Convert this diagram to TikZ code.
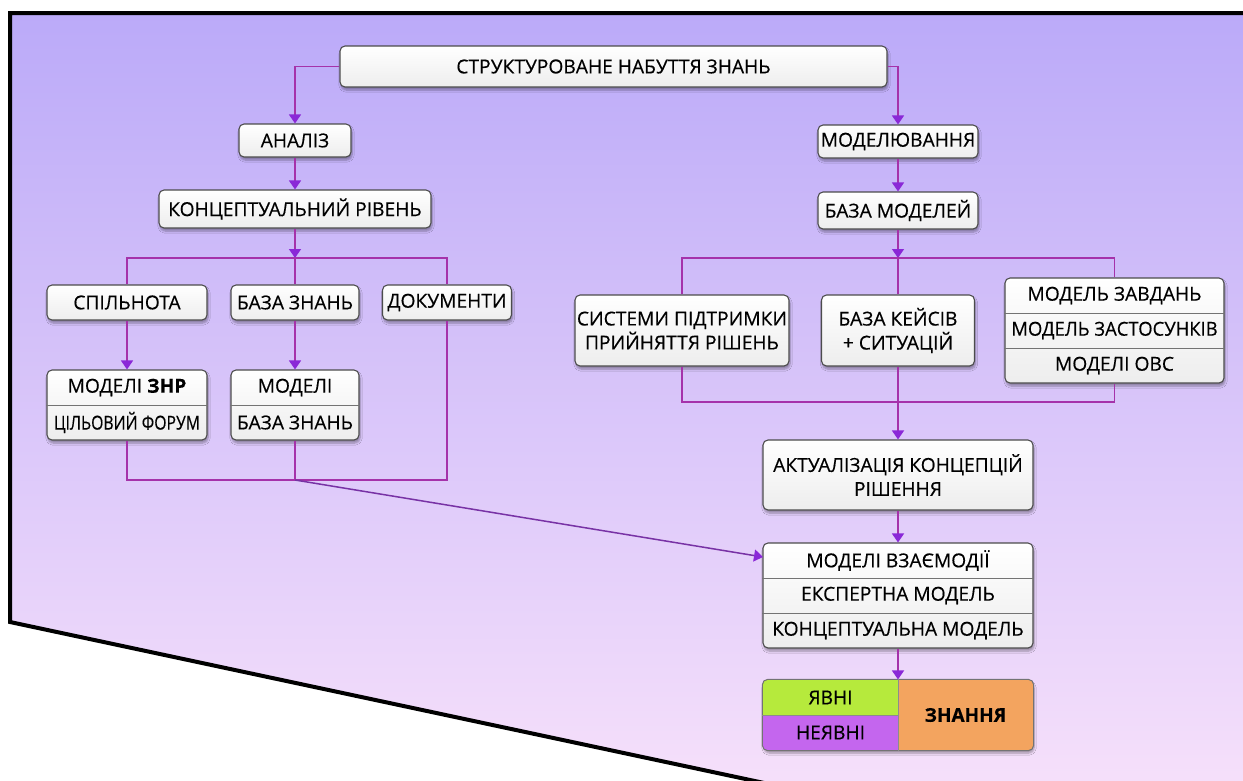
\documentclass[tikz,border=0pt]{standalone}
\usepackage{fontspec}
\setmainfont{Open Sans}
\newfontfamily\boxfont{Open Sans}[FakeBold=0.35]
\usetikzlibrary{arrows.meta,shadows.blur,calc}

\definecolor{bgtop}{RGB}{187,170,249}
\definecolor{bgbot}{RGB}{246,224,250}
\definecolor{linkc}{RGB}{165,50,170}
\definecolor{tipc}{RGB}{138,40,215}
\definecolor{diagc}{RGB}{120,50,165}
\definecolor{yes}{RGB}{182,234,60}
\definecolor{tacit}{RGB}{196,102,238}
\definecolor{know}{RGB}{243,164,95}

\tikzset{
  box/.style={draw=black!70, line width=1.1pt, rounded corners=5pt,
    top color=white, bottom color=black!7, inner sep=0pt, align=center,
    font=\boxfont\fontsize{19.2}{24}\selectfont, text=black,
    blur shadow={shadow blur steps=6, shadow xshift=1pt, shadow yshift=-3pt, shadow opacity=35}},
  lbl/.style={inner sep=0pt, font=\boxfont\fontsize{19.2}{24}\selectfont, text=black, align=center},
  divider/.style={draw=black!55, line width=0.9pt},
  link/.style={draw=linkc, line width=1.5pt},
  arr/.style={link, -{Triangle[width=12pt,length=9pt,color=tipc]}},
}

\begin{document}
\begin{tikzpicture}[x=1pt,y=-1pt]
\useasboundingbox (0,0) rectangle (1243,780);
\clip (0,0) rectangle (1243,780);

% backdrop panel
\shade[top color=bgtop, bottom color=bgbot]
  (10,13) -- (1260,13) -- (1260,790) -- (797,790) -- (10,622) -- cycle;
\draw[line width=4pt, line join=miter]
  (1260,13) -- (10,13) -- (10,622) -- (797,790);

% ---- top ----
\node[box, minimum width=547, minimum height=41] (top) at (613.5,66.5) {СТРУКТУРОВАНЕ НАБУТТЯ ЗНАНЬ};

% ---- left branch ----
\node[box, minimum width=112, minimum height=33] (anal) at (295,140.5) {АНАЛІЗ};
\node[box, minimum width=272, minimum height=38] (konc) at (295,209) {КОНЦЕПТУАЛЬНИЙ РІВЕНЬ};
\node[box, minimum width=160, minimum height=35] (spil) at (127,302.5) {СПІЛЬНОТА};
\node[box, minimum width=128, minimum height=35] (bz) at (295,302.5) {БАЗА ЗНАНЬ};
\node[box, minimum width=129, minimum height=35] (doc) at (447,302.5) {ДОКУМЕНТИ};

\node[box, minimum width=160, minimum height=70] (mznr) at (127,405) {};
\draw[divider] (mznr.west) -- (mznr.east);
\node[lbl] (mznr1) at (127,387.5) {МОДЕЛІ \textbf{ЗНР}};
\node[lbl] (mznr2) at (127,422.5) {\scalebox{0.82}[1]{ЦІЛЬОВИЙ ФОРУМ}};

\node[box, minimum width=128, minimum height=70] (mbz) at (295,405) {};
\draw[divider] (mbz.west) -- (mbz.east);
\node[lbl] (mbz1) at (295,387.5) {МОДЕЛІ};
\node[lbl] (mbz2) at (295,422.5) {БАЗА ЗНАНЬ};

\coordinate (lsplit) at (295,258);
\coordinate (ljoin) at (295,480);

% ---- right branch ----
\node[box, minimum width=160, minimum height=33] (model) at (898,141.5) {МОДЕЛЮВАННЯ};
\node[box, minimum width=160, minimum height=37] (bm) at (898,210.5) {БАЗА МОДЕЛЕЙ};
\node[box, minimum width=214, minimum height=71] (ssp) at (682,330.5) {СИСТЕМИ ПІДТРИМКИ\\ПРИЙНЯТТЯ РІШЕНЬ};
\node[box, minimum width=153, minimum height=71] (bk) at (898,330.5) {БАЗА КЕЙСІВ\\+ СИТУАЦІЙ};

\node[box, minimum width=219, minimum height=105] (mz) at (1114.5,330.5) {};
\draw[divider] ($(mz.west)+(0,-17.5)$) -- ($(mz.east)+(0,-17.5)$);
\draw[divider] ($(mz.west)+(0,17.5)$) -- ($(mz.east)+(0,17.5)$);
\node[lbl] (mz1) at (1114.5,295.5) {МОДЕЛЬ ЗАВДАНЬ};
\node[lbl] (mz2) at (1114.5,330.5) {\scalebox{0.96}[1]{МОДЕЛЬ ЗАСТОСУНКІВ}};
\node[lbl] (mz3) at (1114.5,365.5) {МОДЕЛІ ОВС};

\coordinate (rsplit) at (898,258);
\coordinate (rjoin) at (898,402);

\node[box, minimum width=270, minimum height=70] (akt) at (898,475) {АКТУАЛІЗАЦІЯ КОНЦЕПЦІЙ\\РІШЕННЯ};

\node[box, minimum width=270, minimum height=105] (mv) at (898,595.5) {};
\draw[divider] ($(mv.west)+(0,-17.5)$) -- ($(mv.east)+(0,-17.5)$);
\draw[divider] ($(mv.west)+(0,17.5)$) -- ($(mv.east)+(0,17.5)$);
\node[lbl] (mv1) at (898,560.5) {МОДЕЛІ ВЗАЄМОДІЇ};
\node[lbl] (mv2) at (898,595.5) {ЕКСПЕРТНА МОДЕЛЬ};
\node[lbl] (mv3) at (898,630.5) {КОНЦЕПТУАЛЬНА МОДЕЛЬ};
\coordinate (mvin) at (763,557);

% ---- knowledge block ----
\node[box, draw=none, top color=know, bottom color=know, minimum width=270, minimum height=70] (kn) at (898,715) {};
\begin{scope}
  \clip[rounded corners=5pt] (kn.north west) rectangle (kn.south east);
  \fill[yes] (kn.north west) rectangle (kn.south);
  \fill[tacit] (kn.west) rectangle (kn.south);
  \fill[know] (kn.north) rectangle (kn.south east);
\end{scope}
\draw[draw=black!55, line width=1pt, rounded corners=5pt] (kn.north west) rectangle (kn.south east);
\draw[draw=black!45, line width=0.9pt] (kn.north) -- (kn.south);
\draw[draw=black!45, line width=0.9pt] (kn.west) -- (kn.center);
\node[lbl] (yavni) at (830.5,697.5) {ЯВНІ};
\node[lbl] (neyavni) at (830.5,732.5) {НЕЯВНІ};
\node[lbl, font=\boxfont\fontsize{19}{23}\selectfont\bfseries] (znannya) at (965.5,715) {ЗНАННЯ};

% ---- connectors ----
\draw[arr] (top.west) -| (anal.north);
\draw[arr] (top.east) -| (model.north);
\draw[arr] (anal) -- (konc);
\draw[arr] (konc) -- (lsplit);
\draw[link] (spil.north) -- (spil.north |- lsplit) -- (doc.north |- lsplit) -- (doc.north);
\draw[link] (lsplit) -- (bz.north);
\draw[arr] (spil) -- (mznr);
\draw[arr] (bz) -- (mbz);
\draw[link] (mznr.south) |- (ljoin) -| (doc.south);
\draw[link] (mbz.south) -- (ljoin);
\draw[diagc, line width=1.5pt, -{Triangle[width=12pt,length=9pt,color=tipc]}] (ljoin) -- (mvin);

\draw[arr] (model) -- (bm);
\draw[arr] (bm) -- (rsplit);
\draw[link] (ssp.north) -- (ssp.north |- rsplit) -- (mz.north |- rsplit) -- (mz.north);
\draw[link] (rsplit) -- (bk.north);
\draw[link] (ssp.south) |- (rjoin) -| (mz.south);
\draw[arr] (bk) -- (akt);
\draw[arr] (akt) -- (mv);
\draw[arr] (mv) -- (kn);
\end{tikzpicture}
\end{document}
